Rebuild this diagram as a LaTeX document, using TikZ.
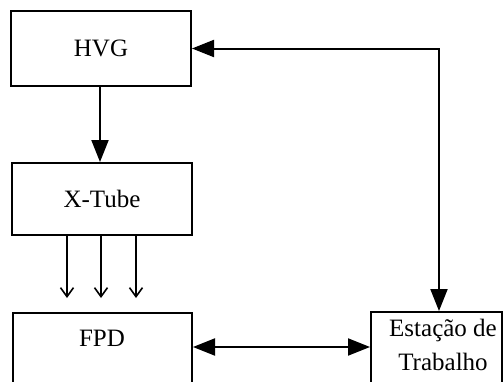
\documentclass[tikz,border=0pt]{standalone}
\usepackage{fontspec}
\setmainfont{Liberation Serif}
\usetikzlibrary{arrows.meta}
\begin{document}
\begin{tikzpicture}[x=1pt,y=-1pt,
  box/.style={draw,line width=2pt,rectangle,inner sep=0pt},
  lbl/.style={font=\fontsize{25}{34}\selectfont,inner sep=0pt,align=center},
  big/.style={line width=2pt,-{Triangle[length=22pt,width=17pt]}},
  bigboth/.style={line width=2pt,{Triangle[length=22pt,width=17pt]}-{Triangle[length=22pt,width=17pt]}},
  ray/.style={line width=1.6pt,-{Straight Barb[length=9pt,width=13pt,line width=1.6pt]}}]
\clip (0,0) rectangle (503,381);
\fill[white] (0,0) rectangle (503,381);
\node[box,minimum width=180pt,minimum height=75pt,lbl] (hvg) at (101,48.5) {HVG};
\node[box,minimum width=180pt,minimum height=72pt,lbl] (xt) at (102,199) {X-Tube};
\node[box,minimum width=179pt,minimum height=82pt] (fpd) at (102.5,354) {};
\node[lbl] (fpdt) at (102,338) {FPD};
\node[box,minimum width=131pt,minimum height=83pt] (est) at (436.5,353.5) {};
\node[lbl] (estt) at (443,345) {Estação de\\Trabalho};
\coordinate (c1) at (67,298);
\coordinate (c2) at (101,298);
\coordinate (c3) at (136,298);
\coordinate (vx) at (439,0);
\coordinate (ay) at (0,347);
\draw[big] (hvg.south -| 100,0) -- (xt.north -| 100,0);
\draw[ray] (xt.south -| c1) -- (c1);
\draw[ray] (xt.south -| c2) -- (c2);
\draw[ray] (xt.south -| c3) -- (c3);
\draw[bigboth] (est.north -| vx) |- (hvg.east);
\draw[bigboth] (fpd.east |- ay) -- (est.west |- ay);
\end{tikzpicture}
\end{document}
